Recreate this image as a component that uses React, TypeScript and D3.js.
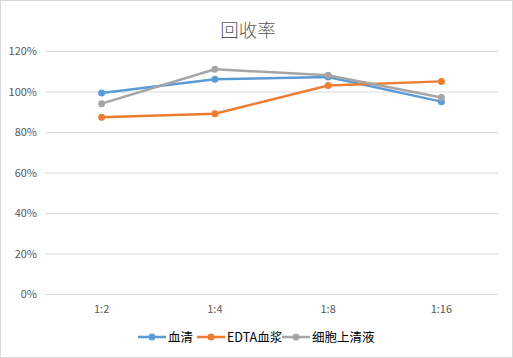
import React from "react";
import * as d3 from "d3";

const categories = ["1:2", "1:4", "1:8", "1:16"];
const seriesNames = ["血清", "EDTA血浆", "细胞上清液"];
const serum = [99.3, 106, 107.2, 95];
const edta = [87.3, 89, 103, 105];
const supernatant = [94, 111, 108, 97];
const yTicks = [0, 20, 40, 60, 80, 100, 120];
const colors = ["#5B9BD5", "#ED7D31", "#A5A5A5"];

const W = 513, H = 358;
const font = "'Microsoft YaHei', 'Noto Sans CJK SC', 'DejaVu Sans', sans-serif";

export default function App() {
  const x = d3.scaleBand<string>().domain(categories).range([45, 498]);
  const y = d3.scaleLinear().domain([0, 120]).range([294, 51]);
  const line = d3.line<number>()
    .x((_, i) => (x(categories[i]) as number) + x.bandwidth() / 2)
    .y((d) => y(d));
  const series = [serum, edta, supernatant];
  const legendX = [138, 197, 282];
  return (
    <svg width={W} height={H} style={{ position: "absolute", left: 0, top: 0 }} fontFamily={font}>
      <rect x={0.5} y={0.5} width={W - 1} height={H - 1} fill="#fff" stroke="#D9D9D9" />
      <text x={248} y={37} textAnchor="middle" fontSize={18.5} fontWeight={300} fill="#595959">回收率</text>
      {yTicks.map((t) => (
        <g key={t}>
          <line x1={45} x2={498} y1={y(t) + 0.5} y2={y(t) + 0.5} stroke="#D9D9D9" strokeWidth={1} />
          <text x={37} y={y(t) + 4} textAnchor="end" fontSize={11} fill="#595959">{t}%</text>
        </g>
      ))}
      {categories.map((c) => (
        <text key={c} x={(x(c) as number) + x.bandwidth() / 2} y={313} textAnchor="middle" fontSize={11} fill="#595959">{c}</text>
      ))}
      {series.map((s, k) => (
        <g key={k}>
          <path d={line(s) as string} fill="none" stroke={colors[k]} strokeWidth={2.5} strokeLinejoin="round" strokeLinecap="round" />
          {s.map((v, i) => (
            <circle key={i} cx={(x(categories[i]) as number) + x.bandwidth() / 2} cy={y(v)} r={3.5} fill={colors[k]} />
          ))}
        </g>
      ))}
      {seriesNames.map((n, k) => (
        <g key={n}>
          <line x1={legendX[k]} x2={legendX[k] + 28} y1={337} y2={337} stroke={colors[k]} strokeWidth={2.5} />
          <circle cx={legendX[k] + 14} cy={337} r={3.5} fill={colors[k]} />
          <text x={legendX[k] + 30} y={342} fontSize={12.5} fill="#000">{n}</text>
        </g>
      ))}
    </svg>
  );
}
